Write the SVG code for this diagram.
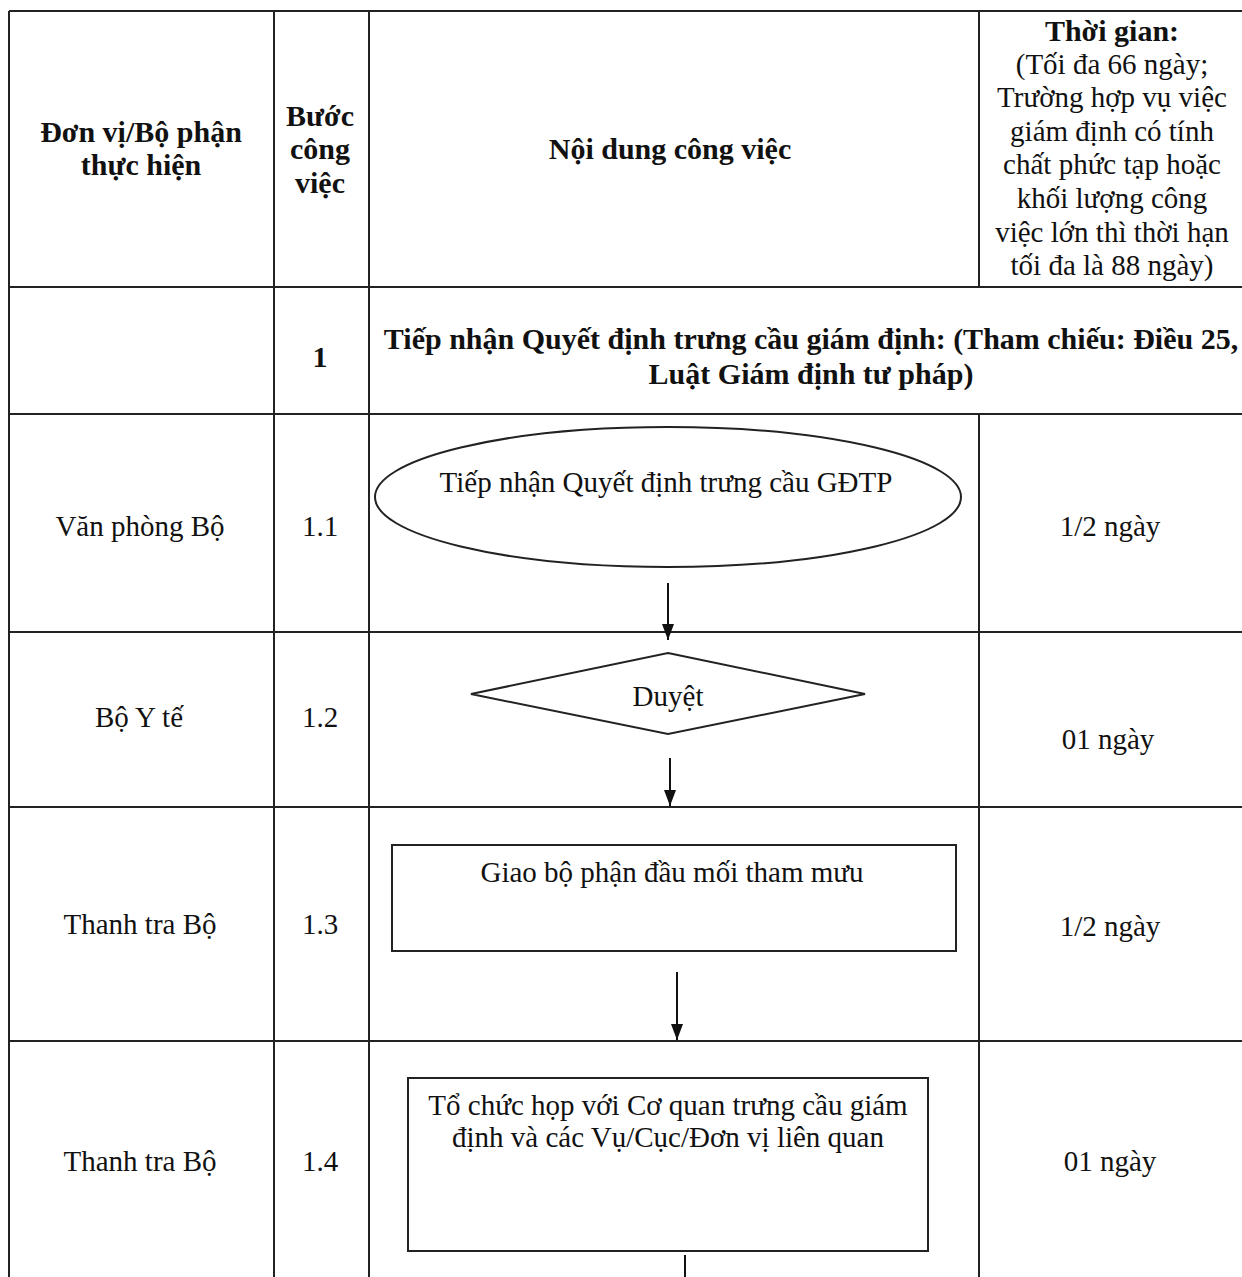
<svg xmlns="http://www.w3.org/2000/svg" width="1242" height="1277" viewBox="0 0 1242 1277">
<style>
.t{font-family:"Liberation Serif","Times New Roman",serif;font-size:29px;fill:#111;text-anchor:middle}
.b{font-weight:bold;font-size:30px}
.grid{stroke:#222;stroke-width:2;fill:none}
.shape{stroke:#222;stroke-width:2;fill:#fff}
.conn{stroke:#111;stroke-width:2;fill:none}
</style>
<defs>
<marker id="ah" viewBox="0 0 16 12" refX="16" refY="6" markerWidth="16" markerHeight="12" markerUnits="userSpaceOnUse" orient="auto">
<path d="M0,0 L16,6 L0,12 Z" fill="#111"/>
</marker>
</defs>
<rect width="1242" height="1277" fill="#fff"/>
<g id="table" class="grid">
<line x1="9" y1="11" x2="1242" y2="11"/>
<line x1="9" y1="287" x2="1242" y2="287"/>
<line x1="9" y1="414" x2="1242" y2="414"/>
<line x1="9" y1="632" x2="1242" y2="632"/>
<line x1="9" y1="807" x2="1242" y2="807"/>
<line x1="9" y1="1041" x2="1242" y2="1041"/>
<line x1="9" y1="11" x2="9" y2="1277"/>
<line x1="274" y1="11" x2="274" y2="1277"/>
<line x1="369" y1="11" x2="369" y2="1277"/>
<line x1="979" y1="11" x2="979" y2="287"/>
<line x1="979" y1="414" x2="979" y2="1277"/>
</g>
<g id="header">
<text class="t b" x="141" y="142">Đơn vị/Bộ phận</text>
<text class="t b" x="141" y="175">thực hiện</text>
<text class="t b" x="320" y="126">Bước</text>
<text class="t b" x="320" y="159">công</text>
<text class="t b" x="320" y="193">việc</text>
<text class="t b" x="670" y="159">Nội dung công việc</text>
<text class="t b" x="1112" y="41">Thời gian:</text>
<text class="t" x="1112" y="74">(Tối đa 66 ngày;</text>
<text class="t" x="1112" y="107">Trường hợp vụ việc</text>
<text class="t" x="1112" y="141">giám định có tính</text>
<text class="t" x="1112" y="174">chất phức tạp hoặc</text>
<text class="t" x="1112" y="208">khối lượng công</text>
<text class="t" x="1112" y="242">việc lớn thì thời hạn</text>
<text class="t" x="1112" y="275">tối đa là 88 ngày)</text>
</g>
<g id="row1">
<text class="t b" x="320" y="367">1</text>
<text class="t b" x="811" y="349">Tiếp nhận Quyết định trưng cầu giám định: (Tham chiếu: Điều 25,</text>
<text class="t b" x="811" y="384">Luật Giám định tư pháp)</text>
</g>
<g id="row1_1">
<text class="t" x="140" y="536">Văn phòng Bộ</text>
<text class="t" x="320" y="536">1.1</text>
<text class="t" x="1110" y="536">1/2 ngày</text>
</g>
<g id="node1_1">
<ellipse class="shape" cx="668" cy="497" rx="293" ry="70"/>
<text class="t" x="666" y="492">Tiếp nhận Quyết định trưng cầu GĐTP</text>
</g>
<g id="row1_2">
<text class="t" x="139" y="727">Bộ Y tế</text>
<text class="t" x="320" y="727">1.2</text>
<text class="t" x="1108" y="749">01 ngày</text>
</g>
<g id="node1_2">
<polygon class="shape" points="668,653 865,694 668,734 471,694"/>
<text class="t" x="668" y="706">Duyệt</text>
</g>
<g id="row1_3">
<text class="t" x="140" y="934">Thanh tra Bộ</text>
<text class="t" x="320" y="934">1.3</text>
<text class="t" x="1110" y="936">1/2 ngày</text>
</g>
<g id="node1_3">
<rect class="shape" x="392" y="845" width="564" height="106"/>
<text class="t" x="672" y="882">Giao bộ phận đầu mối tham mưu</text>
</g>
<g id="row1_4">
<text class="t" x="140" y="1171">Thanh tra Bộ</text>
<text class="t" x="320" y="1171">1.4</text>
<text class="t" x="1110" y="1171">01 ngày</text>
</g>
<g id="node1_4">
<rect class="shape" x="408" y="1078" width="520" height="173"/>
<text class="t" x="668" y="1115">Tổ chức họp với Cơ quan trưng cầu giám</text>
<text class="t" x="668" y="1147">định và các Vụ/Cục/Đơn vị liên quan</text>
</g>
<g id="connectors" class="conn">
<line x1="668" y1="583" x2="668" y2="640" marker-end="url(#ah)"/>
<line x1="670" y1="758" x2="670" y2="806" marker-end="url(#ah)"/>
<line x1="677" y1="972" x2="677" y2="1040" marker-end="url(#ah)"/>
<line x1="685" y1="1255" x2="685" y2="1277"/>
</g>
</svg>
